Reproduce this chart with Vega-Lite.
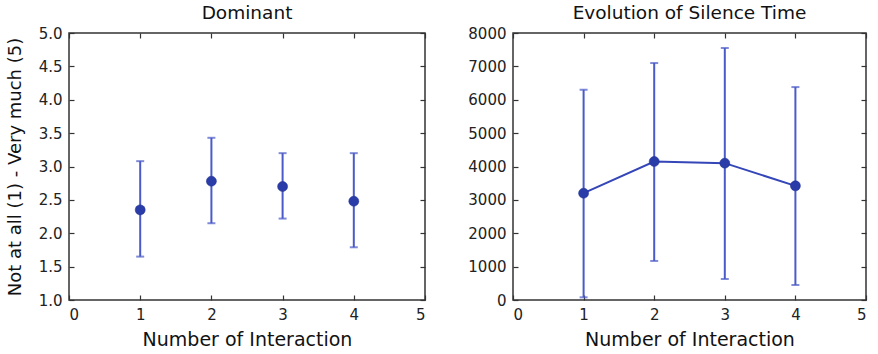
{
  "$schema": "https://vega.github.io/schema/vega-lite/v6.json",
  "padding": {"left": 5, "top": 2, "right": 0, "bottom": 0},
  "background": "white",
  "config": {
    "font": "DejaVu Sans",
    "view": {"stroke": "#333333", "strokeWidth": 1.5},
    "axis": {"domain": false, "grid": false, "tickColor": "#333333", "tickSize": -5, "tickWidth": 1.2, "labelColor": "#222222", "labelFontSize": 15, "titleFontSize": 19, "titleFontWeight": "normal", "titleColor": "#111111", "labelPadding": 12},
    "title": {"fontSize": 18.5, "fontWeight": "normal", "color": "#111111", "offset": 0}
  },
  "datasets": {
    "dom": [
      {"n": 1, "mean": 2.35, "lo": 1.65, "hi": 3.08},
      {"n": 2, "mean": 2.78, "lo": 2.15, "hi": 3.43},
      {"n": 3, "mean": 2.70, "lo": 2.22, "hi": 3.20},
      {"n": 4, "mean": 2.48, "lo": 1.79, "hi": 3.20}
    ],
    "sil": [
      {"n": 1, "mean": 3200, "lo": 80, "hi": 6300},
      {"n": 2, "mean": 4150, "lo": 1170, "hi": 7100},
      {"n": 3, "mean": 4100, "lo": 630, "hi": 7550},
      {"n": 4, "mean": 3420, "lo": 450, "hi": 6380}
    ]
  },
  "hconcat": [
    {
      "title": "Dominant",
      "width": 356,
      "height": 267,
      "data": {"name": "dom"},
      "resolve": {"axis": {"x": "independent", "y": "independent"}},
      "layer": [
        {
          "mark": {"type": "rule", "color": "#4a5ac8", "strokeWidth": 2},
          "encoding": {
            "x": {"field": "n", "type": "quantitative", "scale": {"domain": [0, 5]}, "axis": {"values": [0, 1, 2, 3, 4, 5], "title": "Number of Interaction", "titlePadding": 8}},
            "y": {"field": "lo", "type": "quantitative", "scale": {"domain": [1, 5]}, "axis": {"values": [1, 1.5, 2, 2.5, 3, 3.5, 4, 4.5, 5], "format": ".1f", "title": "Not at all (1) - Very much (5)", "titleFontSize": 18, "titlePadding": 14}},
            "y2": {"field": "hi"}
          }
        },
        {
          "mark": {"type": "tick", "orient": "horizontal", "color": "#4a5ac8", "size": 8, "thickness": 2},
          "encoding": {
            "x": {"field": "n", "type": "quantitative", "axis": null},
            "y": {"field": "lo", "type": "quantitative", "axis": null}
          }
        },
        {
          "mark": {"type": "tick", "orient": "horizontal", "color": "#4a5ac8", "size": 8, "thickness": 2},
          "encoding": {
            "x": {"field": "n", "type": "quantitative", "axis": null},
            "y": {"field": "hi", "type": "quantitative", "axis": null}
          }
        },
        {
          "mark": {"type": "point", "shape": "circle", "filled": true, "opacity": 1, "color": "#2a3ca8", "size": 100, "stroke": "#1e2f90", "strokeWidth": 0.5},
          "encoding": {
            "x": {"field": "n", "type": "quantitative", "axis": {"orient": "top", "values": [0, 1, 2, 3, 4, 5], "labels": false, "title": null}},
            "y": {"field": "mean", "type": "quantitative", "axis": {"orient": "right", "values": [1, 1.5, 2, 2.5, 3, 3.5, 4, 4.5, 5], "labels": false, "title": null}}
          }
        }
      ]
    },
    {
      "title": "Evolution of Silence Time",
      "width": 353,
      "height": 267,
      "data": {"name": "sil"},
      "resolve": {"axis": {"x": "independent", "y": "independent"}},
      "layer": [
        {
          "mark": {"type": "rule", "color": "#4a5ac8", "strokeWidth": 2},
          "encoding": {
            "x": {"field": "n", "type": "quantitative", "scale": {"domain": [0, 5]}, "axis": {"values": [0, 1, 2, 3, 4, 5], "title": "Number of Interaction", "titlePadding": 8}},
            "y": {"field": "lo", "type": "quantitative", "scale": {"domain": [0, 8000]}, "axis": {"values": [0, 1000, 2000, 3000, 4000, 5000, 6000, 7000, 8000], "format": "d", "title": null}},
            "y2": {"field": "hi"}
          }
        },
        {
          "mark": {"type": "tick", "orient": "horizontal", "color": "#4a5ac8", "size": 8, "thickness": 2},
          "encoding": {
            "x": {"field": "n", "type": "quantitative", "axis": null},
            "y": {"field": "lo", "type": "quantitative", "axis": null}
          }
        },
        {
          "mark": {"type": "tick", "orient": "horizontal", "color": "#4a5ac8", "size": 8, "thickness": 2},
          "encoding": {
            "x": {"field": "n", "type": "quantitative", "axis": null},
            "y": {"field": "hi", "type": "quantitative", "axis": null}
          }
        },
        {
          "mark": {"type": "line", "color": "#3446b8", "strokeWidth": 2},
          "encoding": {
            "x": {"field": "n", "type": "quantitative", "axis": null},
            "y": {"field": "mean", "type": "quantitative", "axis": null}
          }
        },
        {
          "mark": {"type": "point", "shape": "circle", "filled": true, "opacity": 1, "color": "#2a3ca8", "size": 100, "stroke": "#1e2f90", "strokeWidth": 0.5},
          "encoding": {
            "x": {"field": "n", "type": "quantitative", "axis": {"orient": "top", "values": [0, 1, 2, 3, 4, 5], "labels": false, "title": null}},
            "y": {"field": "mean", "type": "quantitative", "axis": {"orient": "right", "values": [0, 1000, 2000, 3000, 4000, 5000, 6000, 7000, 8000], "labels": false, "title": null}}
          }
        }
      ]
    }
  ],
  "spacing": 40
}
